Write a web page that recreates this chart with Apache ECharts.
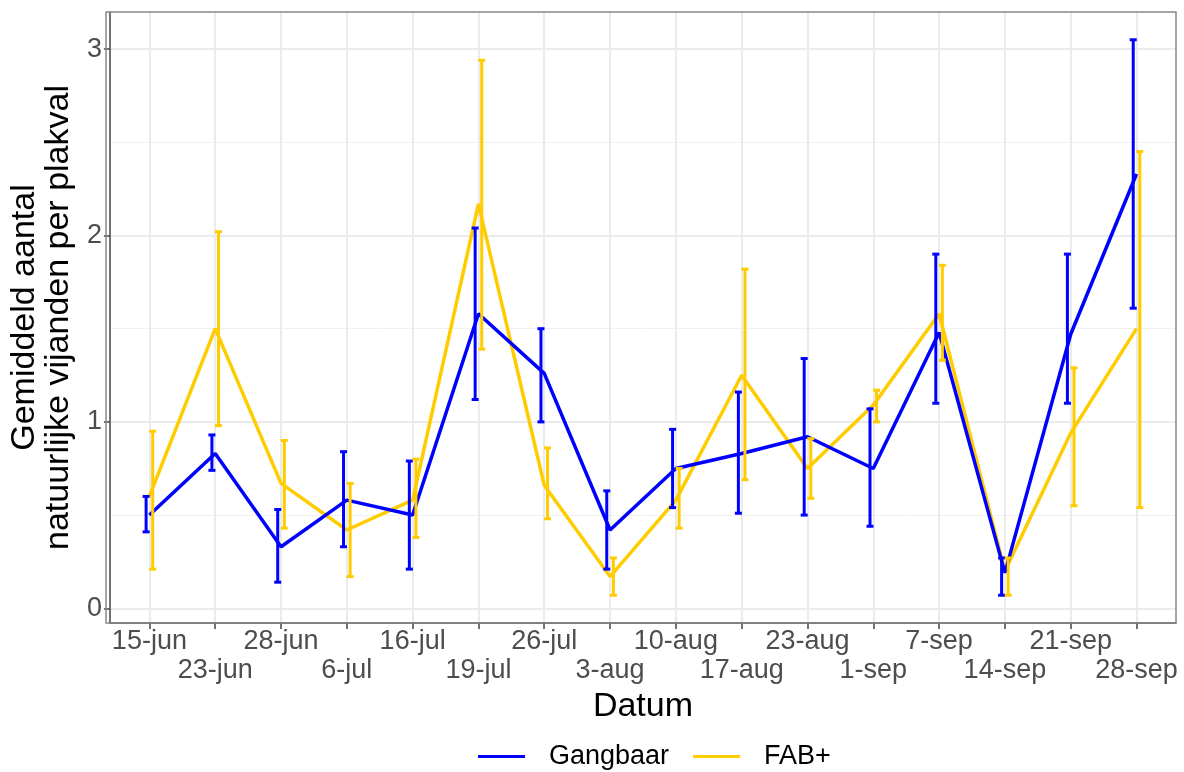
<!DOCTYPE html>
<html lang="nl">
<head>
  <meta charset="UTF-8">
  <title>Natuurlijke vijanden</title>
  <script src="https://cdn.jsdelivr.net/npm/echarts@6/dist/echarts.min.js"></script>
  <style>
    html, body { margin: 0; padding: 0; background: #fff; }
  </style>
</head>
<body>
<div id="main" style="width: 1184px; height: 772px"></div>
<script>

  var dates = ['15-jun', '23-jun', '28-jun', '6-jul', '16-jul', '19-jul', '26-jul', '3-aug',
    '10-aug', '17-aug', '23-aug', '1-sep', '7-sep', '14-sep', '21-sep', '28-sep'];

  // Gangbaar: mean with error bar bounds
  var gangMean = [0.50, 0.83, 0.33, 0.58, 0.50, 1.58, 1.26, 0.42, 0.75, 0.83, 0.92, 0.75, 1.48, 0.19, 1.47, 2.33];
  var gangLow  = [0.41, 0.74, 0.14, 0.33, 0.21, 1.12, 1.00, 0.21, 0.54, 0.51, 0.50, 0.44, 1.10, 0.07, 1.10, 1.61];
  var gangHigh = [0.60, 0.93, 0.53, 0.84, 0.79, 2.04, 1.50, 0.63, 0.96, 1.16, 1.34, 1.07, 1.90, 0.27, 1.90, 3.05];

  // FAB+
  var fabMean = [0.60, 1.50, 0.67, 0.42, 0.58, 2.17, 0.66, 0.17, 0.58, 1.25, 0.75, 1.09, 1.58, 0.20, 0.94, 1.50];
  var fabLow  = [0.21, 0.98, 0.43, 0.17, 0.38, 1.39, 0.48, 0.07, 0.43, 0.69, 0.59, 1.00, 1.33, 0.07, 0.55, 0.54];
  var fabHigh = [0.95, 2.02, 0.90, 0.67, 0.80, 2.94, 0.86, 0.27, 0.75, 1.82, 0.91, 1.17, 1.84, 0.27, 1.29, 2.45];

  var yTicks = [0, 1, 2, 3];
  var yMinor = [0.5, 1.5, 2.5];

  var BLUE = '#0000FF';
  var GOLD = '#FFCC00';
  var FONT = 'Liberation Sans, Arial, sans-serif';

  var chart = echarts.init(document.getElementById('main'));

  // tick positions; labels alternate between two rows
  var xTicks = dates.map(function (d, i) { return i; });
  var xRow1 = xTicks.filter(function (i) { return i % 2 === 0; });
  var xRow2 = xTicks.filter(function (i) { return i % 2 === 1; });

  function lineData(values) {
    return values.map(function (v, i) { return [i, v]; });
  }

  function barData(lo, hi) {
    return lo.map(function (v, i) { return [i, v, hi[i]]; });
  }

  function dateLabel(v) {
    return dates[Math.round(v)];
  }

  // error bars drawn with caps, shifted a little (dodge)
  function errorBars(name, lo, hi, color, shift) {
    return {
      name: name,
      type: 'custom',
      data: barData(lo, hi),
      encode: { x: 0, y: [1, 2] },
      silent: true,
      z: 3,
      renderItem: function (params, api) {
        var x = api.value(0) + shift;
        var p1 = api.coord([x, api.value(1)]);
        var p2 = api.coord([x, api.value(2)]);
        var hw = 3.5;
        var style = { stroke: color, lineWidth: 3 };
        return {
          type: 'group',
          children: [
            { type: 'line', shape: { x1: p1[0], y1: p1[1], x2: p2[0], y2: p2[1] }, style: style },
            { type: 'line', shape: { x1: p1[0] - hw, y1: p1[1], x2: p1[0] + hw, y2: p1[1] }, style: style },
            { type: 'line', shape: { x1: p2[0] - hw, y1: p2[1], x2: p2[0] + hw, y2: p2[1] }, style: style }
          ]
        };
      }
    };
  }

  var tickLabel = {
    showMinLabel: true,
    showMaxLabel: true,
    hideOverlap: false,
    fontSize: 27,
    color: '#4D4D4D',
    fontFamily: FONT,
    formatter: dateLabel
  };

  var option = {
    animation: false,
    textStyle: { fontFamily: FONT },
    grid: { left: 106, right: 8, top: 12, bottom: 149, containLabel: false },
    graphic: [{
      type: 'rect',
      shape: { x: 106, y: 12, width: 1070, height: 611 },
      style: { fill: 'none', stroke: '#888888', lineWidth: 1.5 },
      z: 10
    }],
    legend: {
      left: 473,
      top: 738,
      itemWidth: 47,
      itemHeight: 3,
      itemGap: 24,
      icon: 'rect',
      data: [
        { name: 'Gangbaar', itemStyle: { color: BLUE } },
        { name: 'FAB+', itemStyle: { color: GOLD } }
      ],
      textStyle: { fontSize: 27, color: '#000', fontFamily: FONT, padding: [0, 0, 0, 19] }
    },
    xAxis: [{
      type: 'value',
      min: -0.6,
      max: 15.6,
      name: 'Datum',
      nameLocation: 'middle',
      nameGap: 67,
      nameTextStyle: { fontSize: 34, color: '#000', fontFamily: FONT },
      axisLine: { show: true, onZero: false, lineStyle: { color: '#444', width: 1.5 } },
      axisTick: { show: true, length: 6, lineStyle: { color: '#444', width: 1.5 }, customValues: xTicks },
      axisLabel: Object.assign({ customValues: xRow1, margin: 5 }, tickLabel),
      splitLine: { show: true, lineStyle: { color: '#EBEBEB', width: 2 } }
    }, {
      type: 'value',
      min: -0.6,
      max: 15.6,
      position: 'bottom',
      axisLine: { show: false, onZero: false },
      axisTick: { show: false, customValues: xRow2 },
      axisLabel: Object.assign({ customValues: xRow2, margin: 34 }, tickLabel),
      splitLine: { show: false }
    }],
    yAxis: [{
      type: 'value',
      min: -0.079,
      max: 3.199,
      name: 'Gemiddeld aantal\nnatuurlijke vijanden per plakval',
      nameLocation: 'middle',
      nameGap: 30,
      nameTextStyle: { fontSize: 34, color: '#000', lineHeight: 34, fontFamily: FONT },
      axisLine: { show: true, onZero: false, lineStyle: { color: '#444', width: 1.5 } },
      axisTick: { show: true, length: 6, lineStyle: { color: '#444', width: 1.5 }, customValues: yTicks },
      axisLabel: { customValues: yTicks, showMinLabel: true, showMaxLabel: true,
        fontSize: 27, color: '#4D4D4D', margin: 8, fontFamily: FONT },
      splitLine: { show: true, lineStyle: { color: '#EBEBEB', width: 2 } }
    }, {
      type: 'value',
      min: -0.079,
      max: 3.199,
      position: 'left',
      axisLine: { show: false },
      axisTick: { show: false, customValues: yMinor },
      axisLabel: { show: false, customValues: yMinor },
      splitLine: { show: true, lineStyle: { color: '#F0F0F0', width: 1 } }
    }],
    series: [
      {
        name: 'FAB+',
        type: 'line',
        data: lineData(fabMean),
        symbol: 'none',
        lineStyle: { color: GOLD, width: 3.5 },
        itemStyle: { color: GOLD },
        z: 2
      },
      {
        name: 'Gangbaar',
        type: 'line',
        data: lineData(gangMean),
        symbol: 'none',
        lineStyle: { color: BLUE, width: 3.5 },
        itemStyle: { color: BLUE },
        z: 2
      },
      errorBars('Gangbaar', gangLow, gangHigh, BLUE, -0.05),
      errorBars('FAB+', fabLow, fabHigh, GOLD, 0.05)
    ]
  };

  chart.setOption(option);

</script>
</body>
</html>
